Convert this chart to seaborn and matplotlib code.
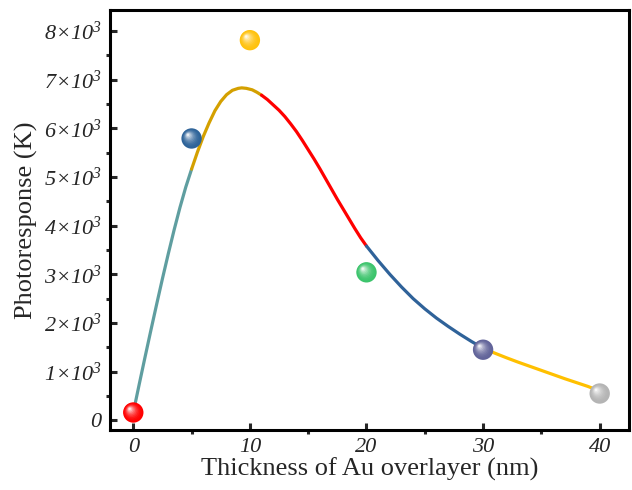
import matplotlib
matplotlib.use("Agg")
import matplotlib.pyplot as plt
import matplotlib.ticker as ticker
from matplotlib.transforms import offset_copy
from matplotlib.colors import to_rgb
import seaborn as sns
import pandas as pd
import numpy as np

# measured points (thickness nm, photoresponse)
thickness = [0, 5, 10, 20, 30, 40]
response = [160, 5790, 7810, 3040, 1450, 550]
ball_colors = ["#FF0000", "#2E6399", "#FFC20E", "#3CC46C", "#62649A", "#B4B4B4"]

# fitted curve
curve_x = [0, 0.5, 1, 1.5, 2, 2.5, 3, 3.5, 4, 4.5, 5,
           5.5, 6, 6.5, 7, 7.5, 8, 8.5, 9, 9.3, 9.7, 10.2, 10.6, 11,
           11.5, 12, 12.5, 13, 13.5, 14, 14.5, 15, 15.5, 16, 16.5, 17, 17.5, 18, 18.5, 19, 19.5, 20,
           21, 22, 23, 24, 25, 26, 27, 28, 29, 30,
           31, 32, 33, 34, 35, 36, 37, 38, 39, 40]
curve_y = [160, 730, 1290, 1840, 2380, 2910, 3420, 3910, 4370, 4790, 5160,
           5510, 5830, 6110, 6360, 6550, 6690, 6780, 6820, 6830, 6820, 6790, 6740, 6680,
           6590, 6480, 6370, 6240, 6090, 5930, 5750, 5560, 5370, 5170, 4960, 4750, 4540, 4340, 4140, 3940, 3750, 3580,
           3280, 3000, 2740, 2500, 2290, 2100, 1930, 1770, 1620, 1480,
           1380, 1285, 1195, 1110, 1025, 940, 855, 775, 695, 600]
seg_edges = [0, 5, 11, 20, 30, 40]
seg_colors = ["#5F9EA0", "#D4A000", "#FF0000", "#2F6299", "#FFC000"]
y_ticks = [0, 1000, 2000, 3000, 4000, 5000, 6000, 7000, 8000]
y_labels = ["0"] + [r"%d×$10^{3}$" % n for n in range(1, 9)]
x_ticks = [0, 10, 20, 30, 40]

sns.set_style("ticks")
plt.rcParams["font.family"] = ["Liberation Serif", "DejaVu Serif"]
# the 10^3 part is mathtext; draw its glyphs in italic Times-like font
plt.rcParams["mathtext.fontset"] = "custom"
plt.rcParams["mathtext.rm"] = "Liberation Serif:italic"
plt.rcParams["mathtext.it"] = "Liberation Serif:italic"

fig = plt.figure(figsize=(6.32, 4.9), dpi=100)
ax = fig.add_axes([0.174, 0.1224, 0.821, 0.8572])

curve = pd.DataFrame({"x": curve_x, "y": curve_y})
for i, col in enumerate(seg_colors):
    lo, hi = seg_edges[i], seg_edges[i + 1]
    seg = curve[(curve["x"] >= lo) & (curve["x"] <= hi)]
    sns.lineplot(data=seg, x="x", y="y", color=col, linewidth=2.3, ax=ax,
                 sort=True, estimator=None, zorder=2)

# shaded balls: stacked discs getting lighter toward the upper-left
pts = pd.DataFrame({"x": thickness, "y": response})
layers = 10
for k in range(layers):
    t = k / (layers - 1)
    size = 215 * (1 - 0.88 * t) ** 2
    shift = 2.6 * t
    tr = offset_copy(ax.transData, fig=fig, x=-shift, y=shift, units="points")
    w = 0.9 * t ** 2
    cols = [tuple(np.array(to_rgb(c)) * (1 - w) + w) for c in ball_colors]
    ax.scatter(pts["x"], pts["y"], s=size, c=cols, linewidths=0, transform=tr,
               zorder=3 + k, clip_on=False)

ax.set_xlim(-2, 42.5)
ax.set_ylim(-200, 8430)
ax.set_xticks(x_ticks)
ax.set_xticklabels([str(v) for v in x_ticks], fontstyle="italic")
ax.set_yticks(y_ticks)
ax.set_yticklabels(y_labels, fontstyle="italic")
ax.xaxis.set_minor_locator(ticker.MultipleLocator(5))
ax.yaxis.set_minor_locator(ticker.MultipleLocator(500))

for s in ax.spines.values():
    s.set_linewidth(2.2)
    s.set_color("black")
ax.tick_params(which="major", direction="in", length=5, width=2.2, labelsize=16, pad=6)
ax.tick_params(which="minor", direction="out", length=3, width=2.2)

ax.set_xlabel("Thickness of Au overlayer (nm)", fontsize=19, labelpad=0)
ax.set_ylabel("Photoresponse (K)", fontsize=19, labelpad=4)

fig.savefig("out.png", dpi=100)
